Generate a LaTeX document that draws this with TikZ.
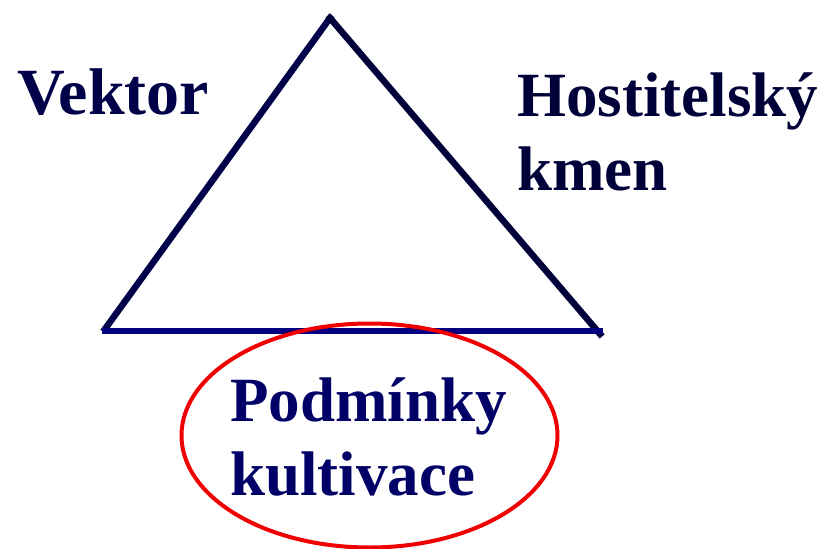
\documentclass[tikz,border=0pt]{standalone}
\usepackage{fontspec}
\setmainfont{Liberation Serif}
\definecolor{edgenavy}{RGB}{0,0,72}
\definecolor{basenavy}{RGB}{0,0,128}
\definecolor{labelnavy}{RGB}{0,0,56}
\definecolor{condnavy}{RGB}{0,0,102}
\definecolor{condred}{RGB}{240,0,0}
\tikzset{
    side/.style={line width=6.5pt, line cap=rect},
    label text/.style={font=\bfseries\fontsize{63}{74}\selectfont, inner sep=0pt, align=left},
}

\begin{document}
\begin{tikzpicture}[x=1pt, y=-1pt]
    \useasboundingbox (0,0) rectangle (828,549);
    % Define the corners of the triangle
    \coordinate (apex) at (330,18);
    \coordinate (left) at (105,329);
    \coordinate (right) at (600,334);
    \coordinate (baseL) at (105,331);
    \coordinate (baseR) at (600,331);
    % Draw the sides of the triangle
    \draw[side, edgenavy] (left) -- (apex);
    \draw[side, labelnavy] (apex) -- (right);
    \draw[side, basenavy] (baseL) -- (baseR);
    % Labels at the corners
    \node[label text, text=edgenavy, font=\bfseries\fontsize{66}{74}\selectfont, anchor=base west] (vector) at (17,114) {Vektor};
    \node[label text, text=labelnavy, anchor=base west] (host) at (517,190) {Hostitelský\\kmen};
    % Conditions in the red ellipse
    \node[label text, text=condnavy, anchor=base west] (cond) at (230,495) {Podmínky\\kultivace};
    \draw[condred, line width=4pt] (369.5,435.5) ellipse [x radius=188pt, y radius=112pt];
\end{tikzpicture}
\end{document}
